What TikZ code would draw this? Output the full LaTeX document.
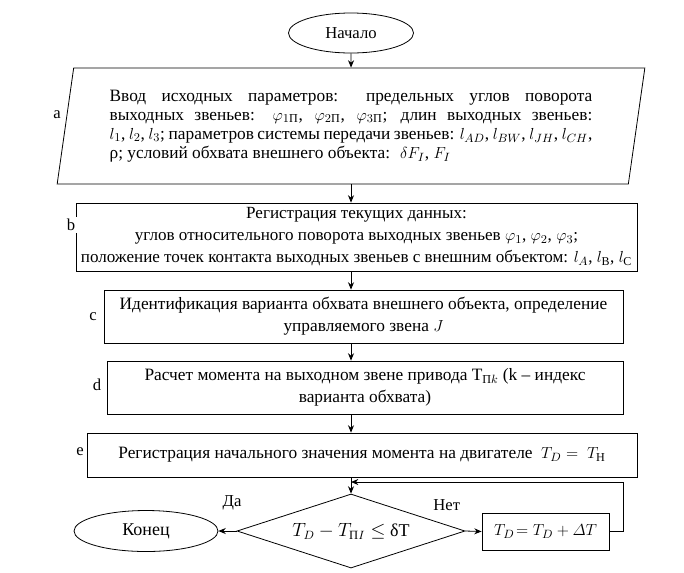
\documentclass[tikz,border=0pt]{standalone}
\usepackage{fontspec}
\setmainfont{Liberation Serif}
\usepackage{amsmath}
\usetikzlibrary{arrows.meta, positioning, shapes.geometric, calc}

\begin{document}
\begin{tikzpicture}[x=0.75pt, y=-0.75pt,
  box/.style={draw, semithick, align=center, inner sep=1pt,
              font=\fontsize{#1}{16.5}\selectfont},
  box/.default=13,
  term/.style={draw, semithick, ellipse, inner sep=1pt, font=\fontsize{12.5}{15}\selectfont},
  io/.style={draw, semithick, trapezium, trapezium left angle=78, trapezium right angle=102,
             trapezium stretches body, text width=362pt, align=justify,
             inner xsep=27pt, inner ysep=2pt, minimum height=87pt,
             font=\fontsize{13}{14.3}\selectfont},
  decision/.style={draw, semithick, diamond, aspect=3, inner sep=0pt,
                   font=\fontsize{13.5}{17}\selectfont},
  lbl/.style={fill=white, inner sep=1.5pt, font=\fontsize{12.5}{15}\selectfont},
  arr/.style={-{Stealth[length=5.5pt, width=4.5pt]}, semithick},
]
  \useasboundingbox (0,0) rectangle (684,572);

  \coordinate (axis) at (351,0);

  \node[term, minimum width=93.75pt, minimum height=30pt] (start) at (351,33) {Начало};

  \node[io] (inp) at (351,126) {Ввод исходных параметров: предельных углов поворота\linebreak
    выходных звеньев: $\varphi_{1\text{П}}$, $\varphi_{2\text{П}}$, $\varphi_{3\text{П}}$; длин выходных звеньев:\linebreak
    $l_1$, $l_2$, $l_3$; параметров системы передачи звеньев: $l_{AD}$, $l_{BW}$, $l_{JH}$, $l_{CH}$,\linebreak
    ρ; условий обхвата внешнего объекта: \ $\delta F_I$, $F_I$};

  \node[box=12.8, minimum width=420.75pt, minimum height=51pt] (regb) at (356.5,237)
    {Регистрация текущих данных:\\
     углов относительного поворота выходных звеньев $\varphi_1$, $\varphi_2$, $\varphi_3$;\\
     положение точек контакта выходных звеньев с внешним объектом: $l_A$, $l_{\text{В}}$, $l_{\text{С}}$};

  \node[box, minimum width=389.25pt, minimum height=39.75pt] (regc) at (363.5,316.5)
    {Идентификация варианта обхвата внешнего объекта, определение\\ управляемого звена $J$};

  \node[box, minimum width=387pt, minimum height=39.75pt] (regd) at (365,387.5)
    {Расчет момента на выходном звене привода Т$_{\text{П}k}$ (k – индекс\\ варианта обхвата)};

  \node[box, minimum width=412.5pt, minimum height=33pt] (rege) at (362,455)
    {Регистрация начального значения момента на двигателе \ $T_D =\ T_{\text{Н}}$};

  \node[decision, minimum width=171pt, minimum height=55.5pt] (cond) at (351,531)
    {$T_D - T_{\text{П}I} \leq$ δT};

  \node[term, font=\fontsize{13.5}{17}\selectfont, minimum width=108pt, minimum height=30.75pt]
    (konec) at (146,531) {Конец};

  \node[box, minimum width=95.25pt, minimum height=27.75pt] (td) at (545.5,531.5)
    {$T_D\!=T_D + \varDelta T$};

  \coordinate (join) at (351,482);

  % side letters
  \node[lbl] (la) at (57,115) {a};
  \node[lbl] (lb) at (71,225) {b};
  \node[lbl] (lc) at (93,317) {c};
  \node[lbl] (ld) at (97,385) {d};
  \node[lbl] (le) at (80,452) {e};

  \draw[arr] (start) -- (inp);
  \draw[arr] (axis |- inp.south) -- (axis |- regb.north);
  \draw[arr] (axis |- regb.south) -- (axis |- regc.north);
  \draw[arr] (axis |- regc.south) -- (axis |- regd.north);
  \draw[arr] (axis |- regd.south) -- (axis |- rege.north);
  \draw[arr] (axis |- rege.south) -- (cond.north);
  \draw[arr] (cond.west) -- node[near start, above=12pt, font=\fontsize{12.5}{15}\selectfont]{Да} (konec.east);
  \draw[arr] (cond.east) -- node[pos=0, above=12pt, xshift=-14pt, font=\fontsize{12.5}{15}\selectfont]{Нет} (td.west);
  \draw[arr] (td.east) -- ++(14,0) |- (join);
\end{tikzpicture}
\end{document}
